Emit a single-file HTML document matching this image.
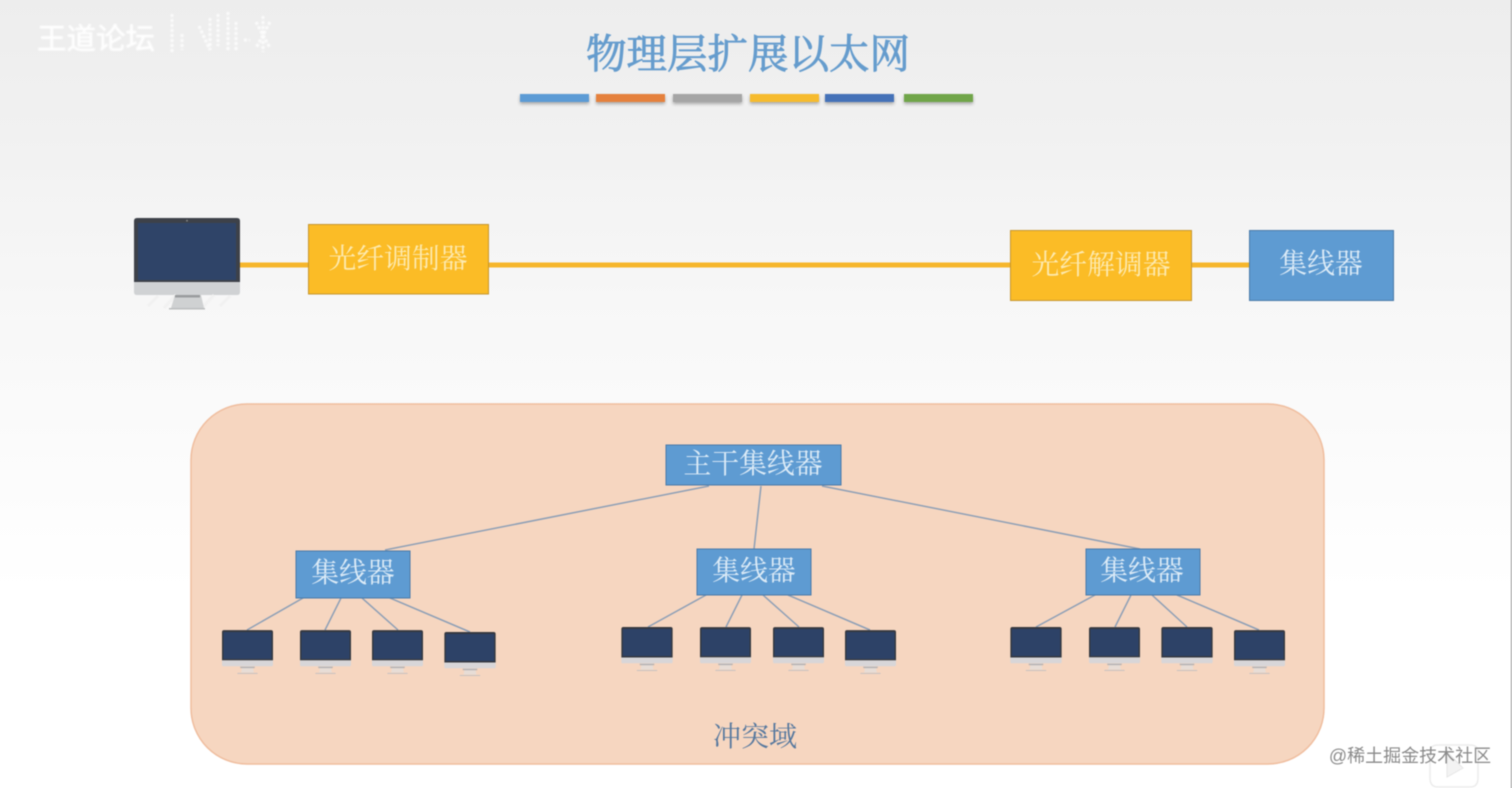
<!DOCTYPE html>
<html><head><meta charset="utf-8">
<style>
html,body{margin:0;padding:0;width:1512px;height:788px;overflow:hidden;background:#fff}
svg{display:block}
.b{filter:blur(.55px)}
text{font-family:"Liberation Serif","Noto Serif CJK SC",serif;text-anchor:middle}
.s{font-family:"Liberation Sans","Noto Sans CJK SC",sans-serif}
</style></head><body>
<svg width="1512" height="788" viewBox="0 0 1512 788" xmlns="http://www.w3.org/2000/svg">
<defs>
<linearGradient id="bg" x1="0" y1="0" x2="0" y2="1">
<stop offset="0" stop-color="#ededed"/><stop offset=".17" stop-color="#f1f1f1"/><stop offset=".38" stop-color="#f7f7f7"/><stop offset=".75" stop-color="#ffffff"/><stop offset="1" stop-color="#ffffff"/>
</linearGradient>
<filter id="sh" x="-10%" y="-50%" width="120%" height="250%"><feDropShadow dx="0" dy="2" stdDeviation="1.6" flood-color="#000" flood-opacity=".3"/></filter>
<filter id="soft" x="-20%" y="-20%" width="140%" height="140%"><feGaussianBlur stdDeviation=".7"/></filter>
<symbol id="mon" viewBox="0 0 106 91" overflow="visible">
<path d="M3 0H103Q106 0 106 3V64H0V3Q0 0 3 0Z" fill="#3d4149"/>
<rect x="4" y="5" width="98" height="57" fill="#2f4468"/>
<circle cx="53" cy="2.7" r=".9" fill="#888"/>
<path d="M0 64H106V74Q106 77 103 77H3Q0 77 0 74Z" fill="#d0d2d4"/>
<path d="M30 90L42 77M68 90L80 77M86 88L96 78M14 88L24 78" stroke="#f1f1f1" stroke-width="3" fill="none"/>
<path d="M41 77H67L70 90H37Z" fill="#cfd1d2"/>
<rect x="41" y="77" width="25" height="2.500" fill="#9a9c9e"/>
<rect x="35" y="90" width="36" height="1.500" fill="#bbbdbe"/>
</symbol>
<symbol id="mons" viewBox="0 0 106 91" overflow="visible">
<path d="M4 0H102Q106 0 106 4V63H0V4Q0 0 4 0Z" fill="#35383f"/>
<rect x="3" y="4" width="100" height="56" fill="#2d4267"/>
<path d="M0 63H106V72Q106 75 103 75H3Q0 75 0 72Z" fill="#d8d6d8"/>
<path d="M42 75H64L66 88H40Z" fill="#e7ddd6"/>
<rect x="38" y="76" width="30" height="3" fill="#b3b1b2"/>
<rect x="32" y="89" width="42" height="2" fill="#c4c1c0"/>
</symbol>
</defs>
<rect width="1512" height="788" fill="url(#bg)"/>
<rect x="1510.500" y="0" width="1.500" height="788" fill="#c4c4c4"/>
<g class="b">
<text class="s" x="96" y="49" font-size="29.500" fill="#ffffff" opacity=".95" stroke="#fff" stroke-width=".5" filter="url(#soft)">王道论坛</text>
<g fill="none" stroke="#fff" stroke-width="3" stroke-dasharray="3 2" opacity=".85" filter="url(#soft)">
<path d="M172 14V54M182 34V50M199 26L210 50M210 18V50M218 14V46M228 12V52M236 22V50M244 40H250M256 22L270 48M270 22L256 48M263 16V52"/>
</g>
<text x="748" y="68" font-size="40.500" fill="#659ccd" stroke="#659ccd" stroke-width=".8">物理层扩展以太网</text>

<g filter="url(#sh)">
<rect x="520" y="94" width="69" height="8" fill="#5b9bd5"/>
<rect x="596" y="94" width="69" height="8" fill="#e5813e"/>
<rect x="673" y="94" width="69" height="8" fill="#a5a5a5"/>
<rect x="750" y="94" width="69" height="8" fill="#f6bb2e"/>
<rect x="825" y="94" width="69" height="8" fill="#4472b8"/>
<rect x="904" y="94" width="69" height="8" fill="#70a548"/>
</g>

<rect x="240" y="262.500" width="770" height="5" fill="#f6b62b"/>
<rect x="1191" y="262.500" width="59" height="5" fill="#f6b62b"/>
<use href="#mon" x="134" y="218" width="106" height="91"/>
<rect x="308.500" y="224.500" width="180" height="69.500" fill="#fbbc26" stroke="#c5962f"/>
<rect x="1010.500" y="230.500" width="181" height="70" fill="#fbbc26" stroke="#c5962f"/>
<rect x="1249.500" y="230.500" width="144" height="70" fill="#5e9bd2" stroke="#4a7aa8"/>
<text x="398" y="268" font-size="27.800" fill="#fdeab0">光纤调制器</text>
<text x="1101" y="274" font-size="27.800" fill="#fdeab0">光纤解调器</text>
<text x="1321" y="273" font-size="27.800" fill="#dcebf7">集线器</text>

<rect x="191" y="404" width="1133" height="360" rx="56" ry="56" fill="#f6d6c0" stroke="#efbd9e" stroke-width="1.500"/>

<g stroke="#8d9fb6" stroke-width="1.500" fill="none">
<path d="M709 486L385 550M761 486L754 549M822 486L1140 549"/>
<path d="M303 598L247 630M341 598L325 630M362 598L398 630M390 598L470 632"/>
<path d="M706 595L648 627M742 595L726 627M763 595L799 627M788 595L870 630"/>
<path d="M1095 595L1036 627M1131 595L1115 627M1152 595L1187 627M1177 595L1259 630"/>
</g>

<rect x="666" y="445" width="175" height="40" fill="#5e9bd2" stroke="#4a7aa8"/>
<rect x="296" y="551" width="114" height="47" fill="#5e9bd2" stroke="#4a7aa8"/>
<rect x="697" y="549" width="114" height="46" fill="#5e9bd2" stroke="#4a7aa8"/>
<rect x="1086" y="549" width="114" height="46" fill="#5e9bd2" stroke="#4a7aa8"/>
<text x="753" y="473" font-size="27.800" fill="#dcebf7">主干集线器</text>
<text x="353" y="582" font-size="27.800" fill="#dcebf7">集线器</text>
<text x="754" y="580" font-size="27.800" fill="#dcebf7">集线器</text>
<text x="1142" y="580" font-size="27.800" fill="#dcebf7">集线器</text>

<use href="#mons" x="222" y="630" width="51" height="44"/>
<use href="#mons" x="300" y="630" width="51" height="44"/>
<use href="#mons" x="372" y="630" width="51" height="44"/>
<use href="#mons" x="444" y="632" width="52" height="44"/>
<use href="#mons" x="621" y="627" width="52" height="44"/>
<use href="#mons" x="700" y="627" width="51" height="44"/>
<use href="#mons" x="773" y="627" width="51" height="44"/>
<use href="#mons" x="845" y="630" width="51" height="44"/>
<use href="#mons" x="1010" y="627" width="52" height="44"/>
<use href="#mons" x="1089" y="627" width="51" height="44"/>
<use href="#mons" x="1161" y="627" width="52" height="44"/>
<use href="#mons" x="1234" y="630" width="51" height="44"/>

<text x="755" y="746" font-size="28" fill="#56789e">冲突域</text>

<path d="M1430 752Q1430 745 1438 745H1470Q1478 745 1478 752V778Q1478 787 1470 787H1438Q1430 787 1430 778Z" fill="none" stroke="#ececec" stroke-width="1.500"/>
<path d="M1447 752L1463 768L1447 777Z" fill="#f3f3f3" stroke="#e6e6e6"/>
<text class="s" x="1410" y="762" font-size="18" fill="#8a8a8a">@稀土掘金技术社区</text>
</g>
</svg>
</body></html>
